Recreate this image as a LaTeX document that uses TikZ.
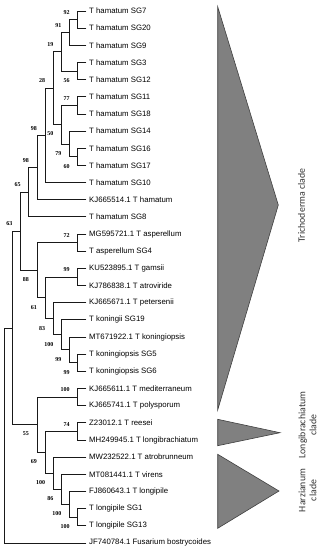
\documentclass[tikz,border=0pt]{standalone}
\usepackage{fontspec}
\setmainfont{Liberation Sans}
\newfontfamily\bsfont{Liberation Serif}
\newfontfamily\cladefont{Carlito}
\begin{document}
\begin{tikzpicture}[x=1pt,y=-1pt,
  br/.style={draw=black!90,line width=0.9pt,line cap=rect},
  leaf/.style={anchor=west,inner xsep=3pt,inner ysep=0pt,font=\fontsize{7.8}{9}\selectfont,text=black},
  bsa/.style={anchor=east,inner sep=0pt,font=\bsfont\bfseries\fontsize{6}{7}\selectfont,yshift=7.3pt,xshift=-8pt},
  bsb/.style={anchor=east,inner sep=0pt,font=\bsfont\bfseries\fontsize{6}{7}\selectfont,yshift=-9.3pt,xshift=-8pt},
  clade/.style={fill=black!50,draw=black!75,line width=0.6pt,line join=miter},
  cladelab/.style={rotate=90,align=center,inner sep=0pt,font=\cladefont\fontsize{9.8}{11}\selectfont,text=black!80}]
\useasboundingbox (0,0) rectangle (321,550);
% leaves
\foreach \i/\t in {0/T hamatum SG7,1/T hamatum SG20,2/T hamatum SG9,3/T hamatum SG3,4/T hamatum SG12,
  5/T hamatum SG11,6/T hamatum SG18,7/T hamatum SG14,8/T hamatum SG16,9/T hamatum SG17,10/T hamatum SG10,
  11/KJ665514.1 T hamatum,12/T hamatum SG8,13/MG595721.1 T asperellum,14/T asperellum SG4,
  15/KU523895.1 T gamsii,16/KJ786838.1 T atroviride,17/KJ665671.1 T petersenii,18/T koningii SG19,
  19/MT671922.1 T koningiopsis,20/T koningiopsis SG5,21/T koningiopsis SG6,22/KJ665611.1 T mediterraneum,
  23/KJ665741.1 T polysporum,24/Z23012.1 T reesei,25/MH249945.1 T longibrachiatum,26/MW232522.1 T atrobrunneum,
  27/MT081441.1 T virens,28/FJ860643.1 T longipile,29/T longipile SG1,30/T longipile SG13,
  31/JF740784.1 Fusarium bostrycoides}
  {\node[leaf] (l\i) at (86,{11+17.16*\i}) {\t};}
% internal nodes
\coordinate (n92) at (77.83,19.58);
\coordinate (n91) at (69.66,32.45);
\coordinate (n56) at (77.83,71.06);
\coordinate (n19) at (61.49,51.755);
\coordinate (n77) at (77.83,105.38);
\coordinate (n60) at (77.83,156.86);
\coordinate (n79) at (69.66,143.99);
\coordinate (n50) at (61.49,124.685);
\coordinate (n28) at (53.32,88.22);
\coordinate (n98a) at (45.15,135.41);
\coordinate (n98b) at (36.98,167.585);
\coordinate (n65) at (28.81,192.25);
\coordinate (n72) at (77.83,242.66);
\coordinate (n99a) at (77.83,276.98);
\coordinate (n99c) at (77.83,362.78);
\coordinate (n99b) at (69.66,349.91);
\coordinate (n100a) at (61.49,334.9);
\coordinate (n83) at (53.32,318.81);
\coordinate (n61) at (45.15,297.9);
\coordinate (n88) at (36.98,270.28);
\coordinate (n63) at (20.64,231.27);
\coordinate (n100c) at (77.83,397.1);
\coordinate (n74) at (77.83,431.42);
\coordinate (n100f) at (77.83,517.22);
\coordinate (n100e) at (69.66,504.35);
\coordinate (n86) at (61.49,489.34);
\coordinate (n100d) at (53.32,473.25);
\coordinate (n69) at (45.15,452.34);
\coordinate (n55) at (36.98,424.72);
\coordinate (nx) at (12.47,328);
\coordinate (root) at (4.3,435.48);
% branches
\foreach \p/\c in {root/nx,root/l31.west,nx/n63,nx/n55,n63/n65,n63/n88,n65/n98b,n65/l12.west,
  n98b/n98a,n98b/l11.west,n98a/n28,n98a/l10.west,n28/n19,n28/n50,n19/n91,n19/n56,n91/n92,n91/l2.west,
  n92/l0.west,n92/l1.west,n56/l3.west,n56/l4.west,n50/n77,n50/n79,n77/l5.west,n77/l6.west,
  n79/l7.west,n79/n60,n60/l8.west,n60/l9.west,n88/n72,n88/n61,n72/l13.west,n72/l14.west,
  n61/n99a,n61/n83,n99a/l15.west,n99a/l16.west,n83/l17.west,n83/n100a,n100a/l18.west,n100a/n99b,
  n99b/l19.west,n99b/n99c,n99c/l20.west,n99c/l21.west,n55/n100c,n55/n69,n100c/l22.west,n100c/l23.west,
  n69/n74,n69/n100d,n74/l24.west,n74/l25.west,n100d/l26.west,n100d/n86,n86/l27.west,n86/n100e,
  n100e/l28.west,n100e/n100f,n100f/l29.west,n100f/l30.west}
  {\draw[br] (\p) |- (\c);}
% bootstrap values
\foreach \n/\v in {n92/92,n91/91,n19/19,n77/77,n28/28,n98a/98,n98b/98,n65/65,n63/63,n72/72,n99a/99,n100c/100,n74/74}
  {\node[bsa] (b\n) at (\n) {\v};}
\foreach \n/\v in {n56/56,n60/60,n79/79,n50/50,n88/88,n61/61,n83/83,n100a/100,n99b/99,n99c/99,n55/55,n69/69,n100d/100,n86/86,n100e/100,n100f/100}
  {\node[bsb] (b\n) at (\n) {\v};}
% clade triangles
\draw[clade] (217.7,6.7) -- (278.3,205) -- (217.7,410) -- cycle;
\draw[clade] (217.7,419.3) -- (280,432.7) -- (217.7,445.7) -- cycle;
\draw[clade] (217.7,454.3) -- (279,491) -- (217.7,528.3) -- cycle;
\node[cladelab] (ct) at (301.5,205.5) {Trichoderma clade};
\node[cladelab] (cl) at (307.5,425) {Longibrachiatum\\clade};
\node[cladelab] (ch) at (307.5,490.5) {Harzianum\\clade};
\end{tikzpicture}
\end{document}
